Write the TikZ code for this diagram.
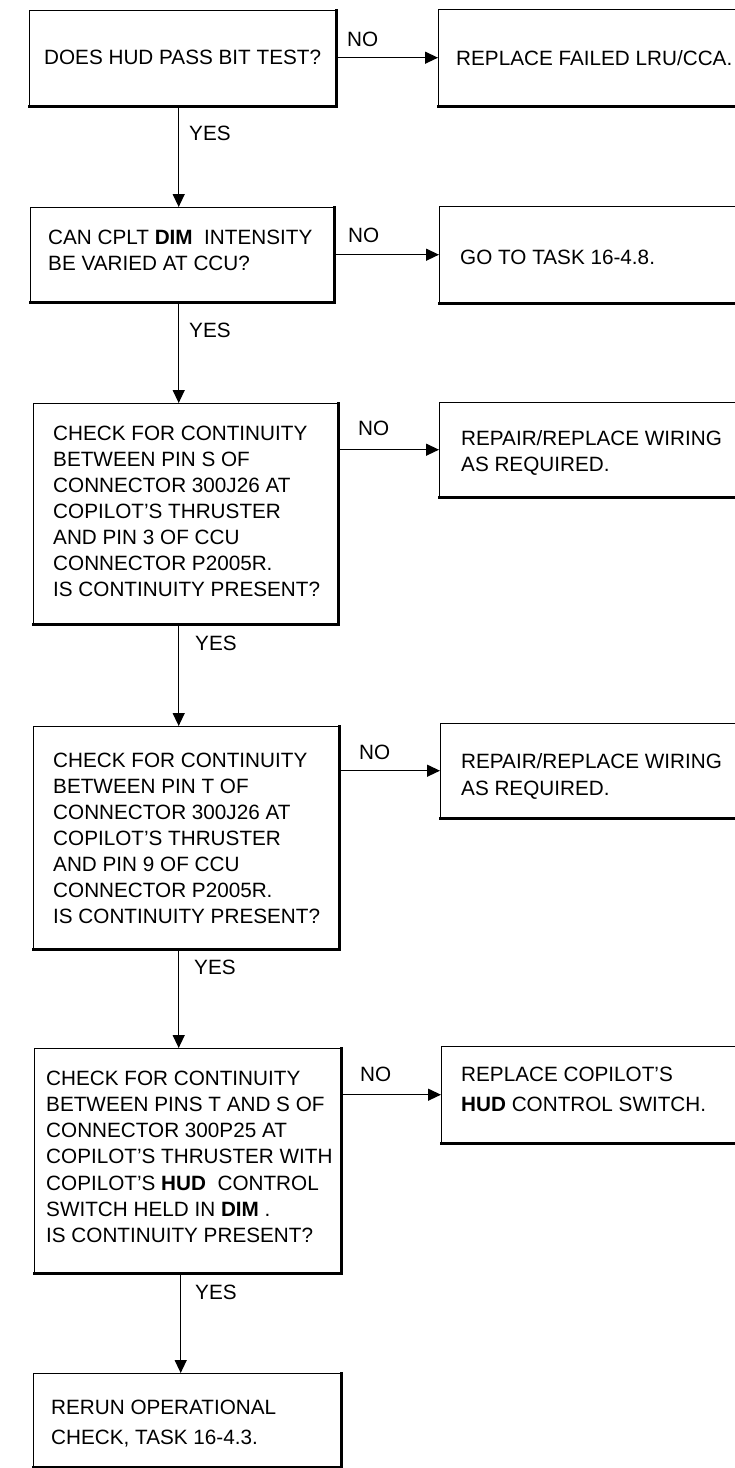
\documentclass[tikz,border=0pt]{standalone}
\usepackage{fontspec}
\setmainfont{Liberation Sans}
\usetikzlibrary{arrows.meta}
\begin{document}
\begin{tikzpicture}[x=1pt,y=-1pt,
  box/.style={draw, line width=1.4pt, inner sep=0pt, anchor=north west},
  shadowline/.style={line width=3pt, line cap=rect},
  txt/.style={anchor=base west, inner sep=0pt, align=left, font=\fontsize{20.7}{26}\selectfont},
  lab/.style={anchor=base west, inner sep=0pt, font=\fontsize{20.7}{24}\selectfont},
  arr/.style={line width=1.3pt, -{Triangle[length=13pt,width=12pt]}}
]
\clip (0,0) rectangle (735,1468);
\useasboundingbox (0,0) rectangle (735,1468);

% left column boxes
\node[box, minimum width=306pt, minimum height=95pt]  (b1) at (29,10) {};
\node[box, minimum width=303pt, minimum height=94pt]  (b2) at (30,207) {};
\node[box, minimum width=304pt, minimum height=220pt] (b3) at (33,403) {};
\node[box, minimum width=305pt, minimum height=222pt] (b4) at (33,726) {};
\node[box, minimum width=306pt, minimum height=224pt] (b5) at (34,1048) {};
\node[box, minimum width=307pt, minimum height=93pt]  (b6) at (33,1373) {};

% right column boxes (run off the right edge)
\node[box, minimum width=330pt, minimum height=96pt] (r1) at (438,9) {};
\node[box, minimum width=330pt, minimum height=96pt] (r2) at (439,206) {};
\node[box, minimum width=330pt, minimum height=94pt] (r3) at (439,402) {};
\node[box, minimum width=330pt, minimum height=94pt] (r4) at (440,723) {};
\node[box, minimum width=330pt, minimum height=96pt] (r5) at (441,1046) {};

% heavier bottom/right edges
\foreach \b in {b1,b2,b3,b4,b5,b6}{
  \draw[shadowline] (\b.south west) -- (\b.south east) -- (\b.north east);
}
\foreach \b in {r1,r2,r3,r4,r5}{
  \draw[shadowline] (\b.south west) -- (\b.south east);
}

% texts (anchor = baseline of the last line)
\node[txt] (t1) at (44,64.4) {DOES HUD PASS BIT TEST?};
\node[txt] (t2) at (48,270.4) {CAN CPLT \textbf{DIM}\ \ INTENSITY\\BE VARIED AT CCU?};
\node[txt] (t3) at (53,596.4) {CHECK FOR CONTINUITY\\BETWEEN PIN S OF\\CONNECTOR 300J26 AT\\COPILOT'S THRUSTER\\AND PIN 3 OF CCU\\CONNECTOR P2005R.\\IS CONTINUITY PRESENT?};
\node[txt] (t4) at (53,923.4) {CHECK FOR CONTINUITY\\BETWEEN PIN T OF\\CONNECTOR 300J26 AT\\COPILOT'S THRUSTER\\AND PIN 9 OF CCU\\CONNECTOR P2005R.\\IS CONTINUITY PRESENT?};
\node[txt, font=\fontsize{20.7}{26.2}\selectfont] (t5) at (46,1242.4) {CHECK FOR CONTINUITY\\BETWEEN PINS T AND S OF\\CONNECTOR 300P25 AT\\COPILOT'S THRUSTER WITH\\COPILOT'S \textbf{HUD}\ \ CONTROL\\SWITCH HELD IN \textbf{DIM}\ .\\IS CONTINUITY PRESENT?};
\node[txt, font=\fontsize{20.7}{30}\selectfont] (t6) at (51,1444.4) {RERUN OPERATIONAL\\CHECK, TASK 16-4.3.};

\node[txt] (s1) at (456,65.4) {REPLACE FAILED LRU/CCA.};
\node[txt] (s2) at (460,264.4) {GO TO TASK 16-4.8.};
\node[txt] (s3) at (461,471.4) {REPAIR/REPLACE WIRING\\AS REQUIRED.};
\node[txt, font=\fontsize{20.7}{27}\selectfont] (s4) at (461,795.4) {REPAIR/REPLACE WIRING\\AS REQUIRED.};
\node[txt, font=\fontsize{20.7}{30}\selectfont] (s5) at (461,1111.4) {REPLACE COPILOT'S\\\textbf{HUD} CONTROL SWITCH.};

% YES connectors
\coordinate (y1) at ([xshift=-4pt]b1.south);
\coordinate (y2) at ([xshift=-3.5pt]b2.south);
\coordinate (y3) at ([xshift=-7pt]b3.south);
\coordinate (y4) at ([xshift=-7.5pt]b4.south);
\coordinate (y5) at ([xshift=-7pt]b5.south);
\draw[arr] (y1) -- (y1 |- b2.north);
\draw[arr] (y2) -- (y2 |- b3.north);
\draw[arr] (y3) -- (y3 |- b4.north);
\draw[arr] (y4) -- (y4 |- b5.north);
\draw[arr] (y5) -- (y5 |- b6.north);

% NO connectors
\draw[arr] (b1.east |- r1.west) -- (r1.west);
\draw[arr] (b2.east |- r2.west) -- (r2.west);
\draw[arr] (b3.east |- r3.west) -- (r3.west);
\draw[arr] (b4.east |- r4.west) -- (r4.west);
\draw[arr] (b5.east |- r5.west) -- (r5.west);

% labels
\node[lab] (n1) at (347,46.4) {NO};
\node[lab] (n2) at (348,242.4) {NO};
\node[lab] (n3) at (358,435.4) {NO};
\node[lab] (n4) at (359,759.4) {NO};
\node[lab] (n5) at (360,1081.4) {NO};
\node[lab] (e1) at (189,140.4) {YES};
\node[lab] (e2) at (189,337.4) {YES};
\node[lab] (e3) at (195,650.4) {YES};
\node[lab] (e4) at (194,974.4) {YES};
\node[lab] (e5) at (195,1299.4) {YES};
\end{tikzpicture}
\end{document}
